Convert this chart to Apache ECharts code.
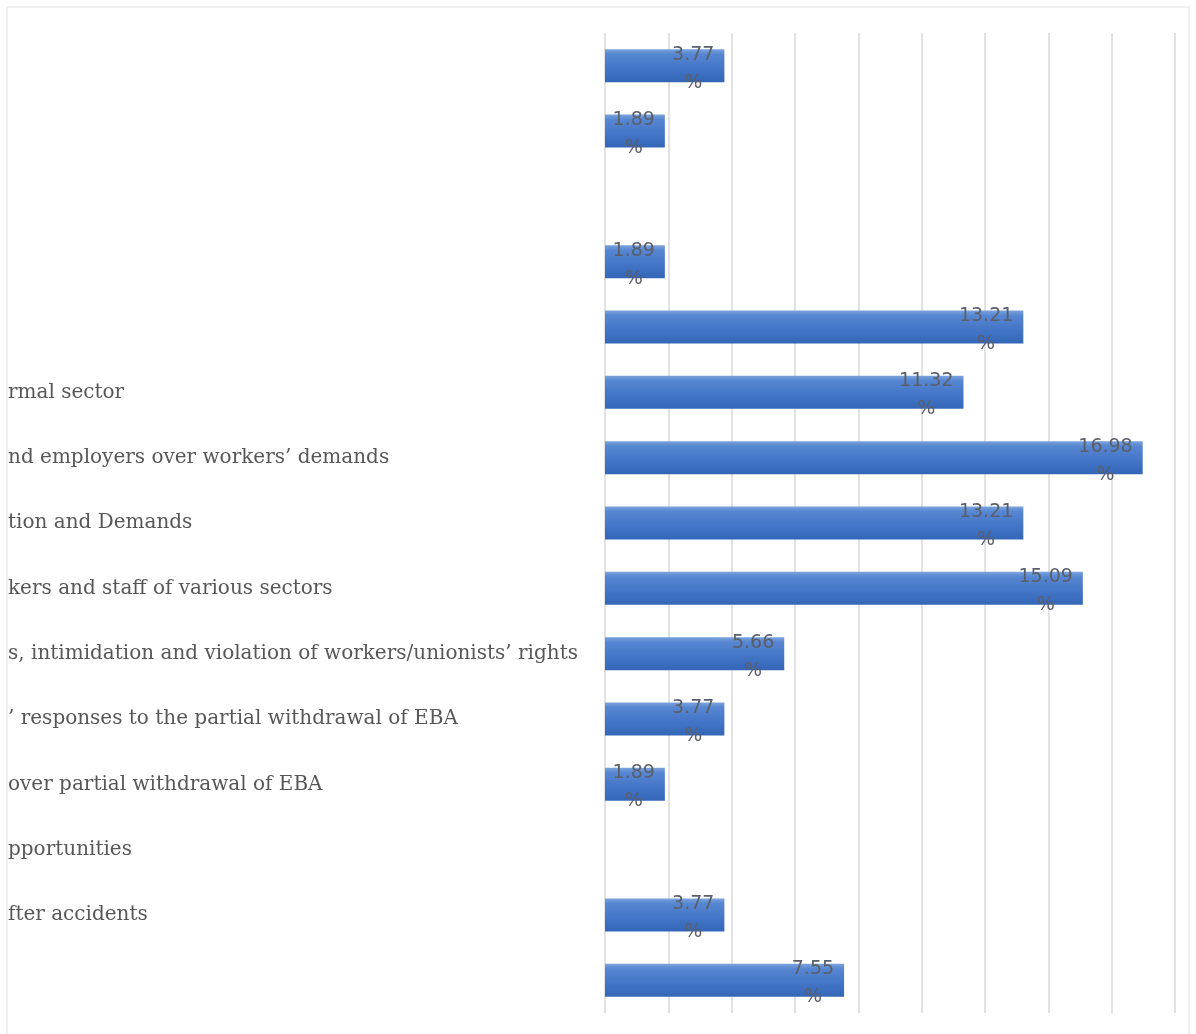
<!DOCTYPE html>
<html>
<head>
<meta charset="utf-8">
<script src="https://cdn.jsdelivr.net/npm/echarts@6/dist/echarts.min.js"></script>
<style>
html,body{margin:0;padding:0;background:#fff;}
#chart{width:1196px;height:1034px;}
</style>
</head>
<body>
<div id="chart"></div>
<script>
// Category labels (visible parts; the original chart is cropped on the left)
var categories = [
  "", "", "", "", "",
  "rmal sector",
  "nd employers over workers\u2019 demands",
  "tion and Demands",
  "kers and staff of various sectors",
  "s, intimidation and violation of workers/unionists\u2019 rights",
  "\u2019 responses to the partial withdrawal of EBA",
  "over partial withdrawal of EBA",
  "pportunities",
  "fter accidents",
  ""
];
// Percent values (null = no bar)
var values = [3.77, 1.89, null, 1.89, 13.21, 11.32, 16.98, 13.21, 15.09, 5.66, 3.77, 1.89, null, 3.77, 7.55];
var axisMin = 0, axisMax = 18, axisStep = 2;

var labelFont = '19px "DejaVu Sans"';
var ctx = document.createElement('canvas').getContext('2d');
ctx.font = labelFont;

// Data items: label block right-aligned inside bar end, lines centred within block
var seriesData = values.map(function (v) {
  if (v == null) return null;
  var w = ctx.measureText(v.toFixed(2)).width;
  return {value: v, label: {distance: 10 + w / 2}};
});

var chart = echarts.init(document.getElementById('chart'), null, {renderer: 'canvas'});
chart.setOption({
  animation: false,
  backgroundColor: '#ffffff',
  graphic: [{
    type: 'rect', silent: true, z: -1,
    shape: {x: 7, y: 7, width: 1182, height: 1060},
    style: {fill: 'none', stroke: '#ebebeb', lineWidth: 1.5}
  }],
  grid: {left: 605, right: 21, top: 33, bottom: 21, containLabel: false},
  xAxis: {
    type: 'value', min: axisMin, max: axisMax, interval: axisStep,
    axisLabel: {show: false}, axisLine: {show: false}, axisTick: {show: false},
    splitLine: {show: true, lineStyle: {color: '#d9d9d9', width: 1.5}}
  },
  yAxis: {
    type: 'category', data: categories, inverse: true,
    axisLine: {show: false}, axisTick: {show: false},
    axisLabel: {
      align: 'left', margin: 597, color: '#575757',
      fontFamily: 'DejaVu Serif', fontSize: 20
    }
  },
  series: [{
    type: 'bar', data: seriesData, barWidth: 33,
    itemStyle: {
      color: new echarts.graphic.LinearGradient(0, 0, 0, 1, [
        {offset: 0, color: '#7ba2dc'},
        {offset: 0.15, color: '#5787d2'},
        {offset: 0.6, color: '#4374c6'},
        {offset: 1, color: '#3466b8'}
      ])
    },
    label: {
      show: true, position: 'insideRight', align: 'center',
      verticalAlign: 'middle', offset: [0, 3],
      color: '#5a5f6a', fontFamily: 'DejaVu Sans', fontSize: 19, lineHeight: 28,
      formatter: function (p) { return p.value == null ? '' : p.value.toFixed(2) + '\n%'; }
    }
  }]
});
</script>
</body>
</html>
